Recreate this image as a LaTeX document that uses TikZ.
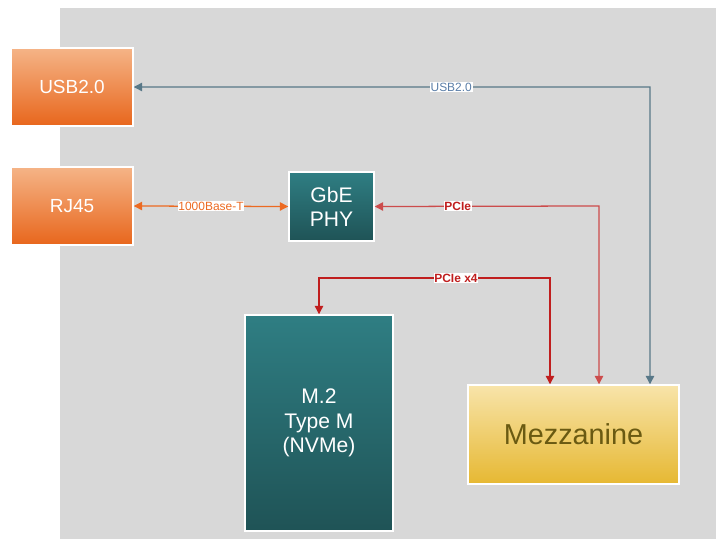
\documentclass[tikz,border=0pt]{standalone}
\usepackage{fontspec}
\setmainfont{Liberation Sans}
\usepackage{xcolor}
\usetikzlibrary{arrows.meta, positioning, calc}

\definecolor{orTop}{HTML}{F5B487}
\definecolor{orBot}{HTML}{E8661C}
\definecolor{tlTop}{HTML}{2F7E83}
\definecolor{tlBot}{HTML}{1F5356}
\definecolor{ylTop}{HTML}{F8E4AA}
\definecolor{ylBot}{HTML}{E6B832}
\definecolor{mzText}{HTML}{6A5A12}
\definecolor{usbLine}{HTML}{587888}
\definecolor{usbText}{HTML}{5A7EA8}
\definecolor{pcieLine}{HTML}{C01E1E}
\definecolor{pcieSoft}{HTML}{CC4C4C}
\definecolor{ethLine}{HTML}{EC6A22}
\definecolor{panel}{HTML}{D8D8D8}

\begin{document}
\begin{tikzpicture}[
  x=0.025cm, y=-0.025cm,
  conn/.style={rectangle, draw=white, line width=1pt,
               top color=orTop, bottom color=orBot,
               minimum width=3.05cm, minimum height=1.95cm,
               text=white, font=\fontsize{13.5}{15}\selectfont},
  chip/.style={rectangle, draw=white, line width=1pt,
               top color=tlTop, bottom color=tlBot,
               text=white, align=center,
               font=\fontsize{15}{17}\selectfont},
  mezz/.style={rectangle, draw=white, line width=1pt,
               top color=ylTop, bottom color=ylBot,
               minimum width=5.275cm, minimum height=2.475cm,
               text=mzText, font=\fontsize{20.5}{22}\selectfont},
  lbl/.style={fill=white, inner sep=0.6pt, font=\fontsize{8.5}{9}\selectfont},
  blbl/.style={lbl, font=\fontsize{8.5}{9}\selectfont\bfseries},
  both/.style={{Triangle[length=6pt,width=6pt]}-{Triangle[length=6pt,width=6pt]}, line width=0.9pt},
  usb/.style={both, usbLine},
  pcie/.style={both, pcieLine},
  eth/.style={both, ethLine}
]
%% Canvas and board panel
\useasboundingbox (0,0) rectangle (716,539);
\fill[panel] (60,8) rectangle (716,539);
%% Blocks
\node[conn] (usb) at (72,87) {USB2.0};
\node[conn] (rj) at (72,206) {RJ45};
\node[chip, minimum width=2.125cm, minimum height=1.725cm] (phy) at (331.5,206.5) {GbE\\PHY};
\node[chip, minimum width=3.7cm, minimum height=5.4cm,
      font=\fontsize{15}{17.5}\selectfont] (m2) at (319,423) {M.2\\Type M\\(NVMe)};
\node[mezz] (mez) at (573.5,434.5) {Mezzanine};
%% Bend points
\coordinate (usbT) at (650,87);
\coordinate (pcT) at (599,206);
\coordinate (x4R) at (550,278);
\coordinate (x4L) at (319,278);
%% Connectors
\draw[usb] ($(mez.north)+(76.5,0)$) -- (usbT)
  -- node[pos=0.385, lbl, text=usbText] {USB2.0} (usb.east);
\draw[pcie, draw=pcieSoft] ($(mez.north)+(25.5,0)$) -- (pcT)
  -- node[pos=0.63, blbl, text=pcieLine] {PCIe} (phy.east);
\draw[pcie] ($(mez.north)+(-23.5,0)$) -- (x4R)
  -- node[pos=0.407, blbl, text=pcieLine] {PCIe x4} (x4L) -- (m2.north);
\draw[eth] (rj.east) -- (phy.west)
  node[midway, lbl, text=ethLine] {1000Base-T};
\end{tikzpicture}
\end{document}
